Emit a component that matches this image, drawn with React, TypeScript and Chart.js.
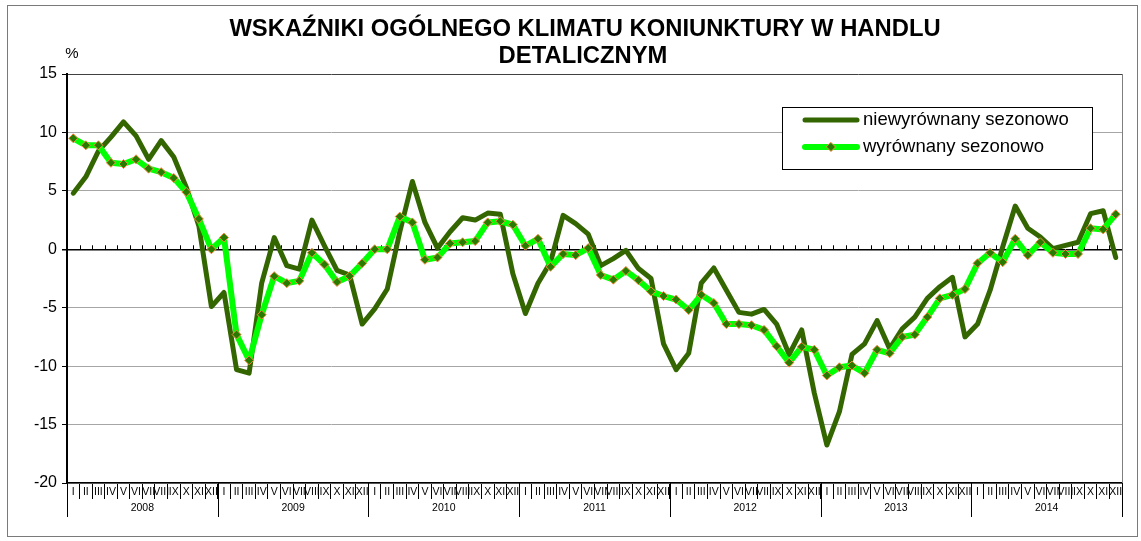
import React, { useEffect, useRef } from 'react';
import { Chart, registerables } from 'chart.js';

Chart.register(...registerables);

const FONT = "Arial, 'Liberation Sans', Helvetica, sans-serif";

const months = ['I', 'II', 'III', 'IV', 'V', 'VI', 'VII', 'VIII', 'IX', 'X', 'XI', 'XII'];
const years = ['2008', '2009', '2010', '2011', '2012', '2013', '2014'];

// niewyrównany sezonowo (unadjusted)
const unadjusted = [
  4.8, 6.2, 8.4, 9.6, 10.9, 9.7, 7.7, 9.3, 7.9, 5.3, 2.0, -4.9,
  -3.7, -10.3, -10.6, -2.9, 1.0, -1.4, -1.7, 2.5, 0.3, -1.8, -2.2, -6.4,
  -5.1, -3.4, 1.5, 5.8, 2.3, 0.1, 1.5, 2.7, 2.5, 3.1, 3.0, -2.1,
  -5.5, -2.9, -1.1, 2.9, 2.2, 1.3, -1.4, -0.8, -0.1, -1.65, -2.5, -8.1,
  -10.3, -8.9, -2.9, -1.6, -3.5, -5.4, -5.55, -5.15, -6.4, -9.0, -6.9, -12.3,
  -16.75, -13.9, -9.0, -8.1, -6.1, -8.5, -6.8, -5.8, -4.2, -3.2, -2.4, -7.5,
  -6.4, -3.5, 0.2, 3.7, 1.8, 1.05, 0.06, 0.34, 0.6, 3.05, 3.3, -0.7,
];

// wyrównany sezonowo (seasonally adjusted)
const adjusted = [
  9.5, 8.9, 8.9, 7.4, 7.3, 7.7, 6.9, 6.6, 6.1, 4.9, 2.6, 0.0,
  1.0, -7.3, -9.5, -5.6, -2.3, -2.9, -2.7, -0.3, -1.3, -2.8, -2.3, -1.2,
  0.0, 0.0, 2.8, 2.3, -0.9, -0.7, 0.5, 0.6, 0.7, 2.3, 2.4, 2.1,
  0.3, 0.9, -1.5, -0.4, -0.5, 0.1, -2.2, -2.6, -1.85, -2.65, -3.6, -4.0,
  -4.3, -5.2, -3.9, -4.6, -6.4, -6.4, -6.5, -6.9, -8.3, -9.7, -8.35, -8.6,
  -10.8, -10.1, -9.95, -10.6, -8.6, -8.9, -7.5, -7.3, -5.8, -4.2, -3.9, -3.4,
  -1.2, -0.3, -1.1, 0.9, -0.5, 0.6, -0.3, -0.4, -0.4, 1.8, 1.7, 3.0,
];

const yMin = -20;
const yMax = 15;
const yStep = 5;

const titleLines = ['WSKAŹNIKI OGÓLNEGO KLIMATU KONIUNKTURY W HANDLU', 'DETALICZNYM'];
const unitLabel = '%';
const seriesNames = ['niewyrównany sezonowo', 'wyrównany sezonowo'];

const W = 1141;
const H = 541;

const DARK = '#336600';
const LIGHT = '#00ff00';
const MARK_FILL = '#267b00';
const MARK_EDGE = '#f58a3c';

const labels = years.flatMap(() => months);

const decorPlugin = {
  id: 'decor',
  beforeDraw(chart: any) {
    const ctx = chart.ctx;
    ctx.save();
    ctx.fillStyle = '#ffffff';
    ctx.fillRect(0, 0, chart.width, chart.height);
    ctx.restore();
  },
  beforeDatasetsDraw(chart: any) {
    const { ctx, chartArea: a, scales } = chart;
    const y0 = scales.y.getPixelForValue(0);
    const n = labels.length;
    ctx.save();
    ctx.strokeStyle = '#000';
    ctx.lineWidth = 1;
    ctx.beginPath();
    for (let k = 0; k <= n; k++) {
      const xx = Math.round(a.left + ((a.right - a.left) * k) / n) + 0.5;
      ctx.moveTo(xx, y0);
      ctx.lineTo(xx, y0 - 4);
    }
    ctx.stroke();
    ctx.strokeStyle = '#808080';
    ctx.beginPath();
    ctx.moveTo(a.right + 0.5, a.top);
    ctx.lineTo(a.right + 0.5, a.bottom);
    ctx.stroke();
    ctx.restore();
  },
  afterDraw(chart: any) {
    const { ctx, chartArea: a } = chart;
    const n = labels.length;
    const bx = (k: number) => a.left + ((a.right - a.left) * k) / n;
    ctx.save();

    // year dividers and labels
    ctx.strokeStyle = '#000';
    ctx.lineWidth = 1;
    ctx.beginPath();
    for (let j = 0; j <= years.length; j++) {
      const xx = Math.round(bx(j * 12)) + 0.5;
      ctx.moveTo(xx, a.bottom);
      ctx.lineTo(xx, a.bottom + 34);
    }
    ctx.stroke();
    ctx.fillStyle = '#000';
    ctx.font = `10.5px ${FONT}`;
    ctx.textAlign = 'center';
    ctx.textBaseline = 'middle';
    years.forEach((yr, j) => {
      ctx.fillText(yr, bx(j * 12 + 6), a.bottom + 25);
    });

    // title
    ctx.font = `bold 23.8px ${FONT}`;
    ctx.textAlign = 'center';
    ctx.textBaseline = 'middle';
    ctx.fillText(titleLines[0], 585, 29);
    ctx.fillText(titleLines[1], 583, 56);

    // unit
    ctx.font = `15px ${FONT}`;
    ctx.fillText(unitLabel, 72, 54);

    // legend
    const lx = 782.5, ly = 107.5, lw = 310, lh = 62;
    ctx.fillStyle = '#fff';
    ctx.fillRect(lx, ly, lw, lh);
    ctx.strokeStyle = '#000';
    ctx.lineWidth = 1;
    ctx.strokeRect(lx, ly, lw, lh);
    const rows = [120, 147];
    ctx.lineCap = 'round';
    ctx.strokeStyle = DARK;
    ctx.lineWidth = 5;
    ctx.beginPath();
    ctx.moveTo(805, rows[0]);
    ctx.lineTo(857, rows[0]);
    ctx.stroke();
    ctx.strokeStyle = LIGHT;
    ctx.lineWidth = 6;
    ctx.beginPath();
    ctx.moveTo(805, rows[1]);
    ctx.lineTo(857, rows[1]);
    ctx.stroke();
    ctx.fillStyle = MARK_FILL;
    ctx.strokeStyle = MARK_EDGE;
    ctx.lineWidth = 1;
    ctx.beginPath();
    ctx.moveTo(831, rows[1] - 4.5);
    ctx.lineTo(835.5, rows[1]);
    ctx.lineTo(831, rows[1] + 4.5);
    ctx.lineTo(826.5, rows[1]);
    ctx.closePath();
    ctx.fill();
    ctx.stroke();
    ctx.fillStyle = '#000';
    ctx.font = `18.5px ${FONT}`;
    ctx.textAlign = 'left';
    ctx.textBaseline = 'middle';
    ctx.fillText(seriesNames[0], 863, rows[0]);
    ctx.fillText(seriesNames[1], 863, rows[1]);

    // outer frame
    ctx.strokeStyle = '#7a7a7a';
    ctx.lineWidth = 1;
    ctx.strokeRect(7.5, 5.5, 1130, 531);
    ctx.restore();
  },
};

export default function App() {
  const ref = useRef<HTMLCanvasElement | null>(null);

  useEffect(() => {
    if (!ref.current) return;
    const chart = new Chart(ref.current, {
      type: 'line',
      data: {
        labels,
        datasets: [
          {
            label: seriesNames[0],
            data: unadjusted,
            borderColor: DARK,
            backgroundColor: DARK,
            borderWidth: 5,
            pointRadius: 0,
            pointHoverRadius: 0,
            tension: 0,
            borderJoinStyle: 'round',
            borderCapStyle: 'round',
            order: 1,
          },
          {
            label: seriesNames[1],
            data: adjusted,
            borderColor: LIGHT,
            backgroundColor: MARK_FILL,
            borderWidth: 6,
            pointStyle: 'rectRot',
            pointRadius: 4.5,
            pointBackgroundColor: MARK_FILL,
            pointBorderColor: MARK_EDGE,
            pointBorderWidth: 1,
            tension: 0,
            borderJoinStyle: 'round',
            borderCapStyle: 'round',
            order: 0,
          },
        ],
      },
      options: {
        responsive: false,
        animation: false,
        devicePixelRatio: 1,
        layout: { padding: { top: 74, right: 19, bottom: 0, left: 0 } },
        plugins: {
          legend: { display: false },
          title: { display: false },
          tooltip: { enabled: false },
        },
        scales: {
          x: {
            type: 'category',
            offset: true,
            grid: {
              offset: true,
              drawOnChartArea: false,
              drawTicks: true,
              tickLength: 16,
              tickColor: '#000',
              lineWidth: 1,
            },
            border: { color: '#000', width: 1.5 },
            ticks: {
              autoSkip: false,
              maxRotation: 0,
              minRotation: 0,
              padding: -13,
              color: '#000',
              font: { family: FONT, size: 10.5 },
            },
            afterFit: (s: any) => {
              s.height = 58;
            },
          },
          y: {
            min: yMin,
            max: yMax,
            ticks: {
              stepSize: yStep,
              color: '#000',
              padding: 5,
              font: { family: FONT, size: 16 },
            },
            grid: {
              color: (c: any) =>
                c.tick && c.tick.value === 0 ? '#000' : c.tick && c.tick.value === yMax ? '#404040' : '#a6a6a6',
              lineWidth: (c: any) => (c.tick && c.tick.value === 0 ? 1.5 : 1),
              drawTicks: true,
              tickLength: 5,
              tickColor: '#000',
            },
            border: { color: '#000', width: 2 },
            afterFit: (s: any) => {
              s.width = 67;
            },
          },
        },
      },
      plugins: [decorPlugin],
    } as any);
    return () => chart.destroy();
  }, []);

  return (
    <div style={{ position: 'absolute', left: 0, top: 0, width: W, height: H }}>
      <canvas ref={ref} width={W} height={H} style={{ display: 'block' }} />
    </div>
  );
}
